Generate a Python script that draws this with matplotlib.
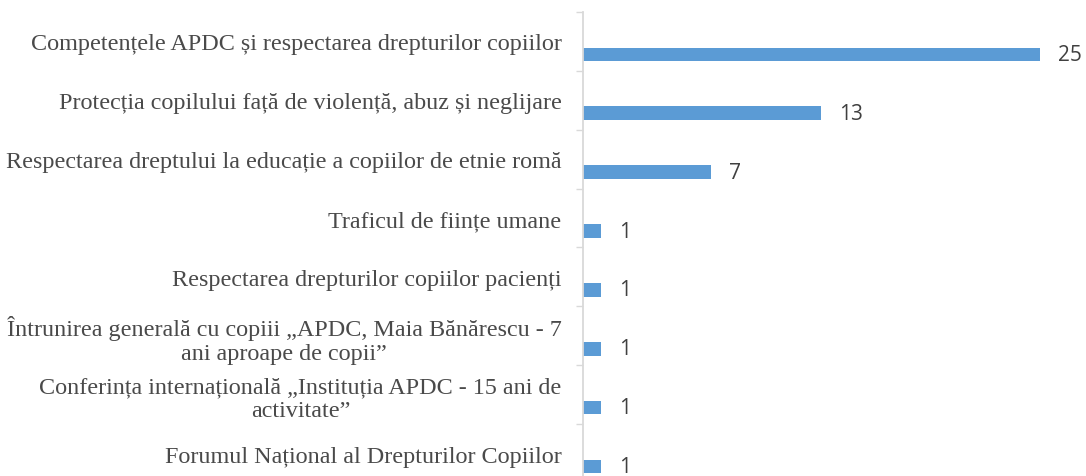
import matplotlib.pyplot as plt
import numpy as np

# categories, top to bottom
categories = [
    'Competențele APDC și respectarea drepturilor copiilor',
    'Protecția copilului față de violență, abuz și neglijare',
    'Respectarea dreptului la educație a copiilor de etnie romă',
    'Traficul de ființe umane',
    'Respectarea drepturilor copiilor pacienți',
    'Întrunirea generală cu copiii „APDC, Maia Bănărescu - 7\nani aproape de copii”',
    'Conferința internațională „Instituția APDC - 15 ani de\nactivitate”',
    'Forumul Național al Drepturilor Copiilor',
]
values = [25, 13, 7, 1, 1, 1, 1, 1]

W, H = 1086, 477
fig = plt.figure(figsize=(W / 100, H / 100), dpi=100)
# axes runs a bit past the bottom of the picture, as in the original
ax = fig.add_axes([583 / W, 1 - 484 / H, 1 - 583 / W, 471 / H])

pos = np.arange(len(categories))
bars = ax.barh(pos + 0.22, values, height=0.23, color='#5b9bd5')
ax.bar_label(bars, padding=13, fontsize=15, color='#404040', family='Open Sans')

ax.set_ylim(len(categories) - 0.5, -0.5)
ax.set_xlim(0, 27.5)

ax.set_yticks(pos)
ax.set_yticklabels(categories, family='Liberation Serif', fontsize=17.4,
                   color='#4a4a4a', linespacing=1.15)
for lbl in ax.get_yticklabels():
    lbl.set_multialignment('center')
ax.tick_params(axis='y', which='major', length=0, pad=15.5)
ax.set_yticks(np.arange(len(categories) + 1) - 0.5, minor=True)
ax.tick_params(axis='y', which='minor', length=5, color='#d9d9d9', width=1)

ax.set_xticks([])
for s in ['top', 'right', 'bottom']:
    ax.spines[s].set_visible(False)
ax.spines['left'].set_color('#d9d9d9')
ax.spines['left'].set_linewidth(1.3)

fig.savefig('out.png', dpi=100)
